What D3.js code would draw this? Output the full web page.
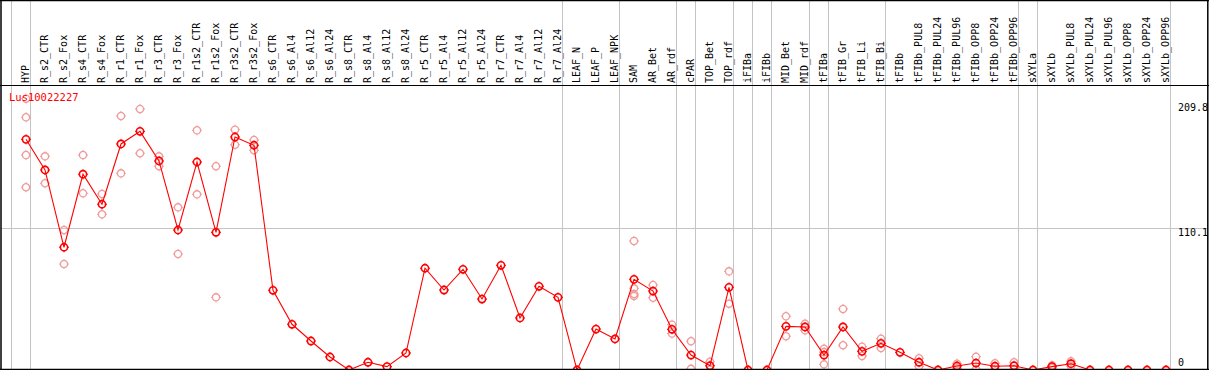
<!DOCTYPE html>
<html><head><meta charset="utf-8">
<script src="https://cdn.jsdelivr.net/npm/d3@7"></script>
<style>html,body{margin:0;padding:0;background:#fff;overflow:hidden}</style>
</head><body><svg id="c" width="1209" height="370"></svg>
<script>
const geneName = "Lus10022227";
const categories = ["HYP","R_s2_CTR","R_s2_Fox","R_s4_CTR","R_s4_Fox","R_r1_CTR","R_r1_Fox","R_r3_CTR","R_r3_Fox","R_r1s2_CTR","R_r1s2_Fox","R_r3s2_CTR","R_r3s2_Fox","R_s6_CTR","R_s6_Al4","R_s6_Al12","R_s6_Al24","R_s8_CTR","R_s8_Al4","R_s8_Al12","R_s8_Al24","R_r5_CTR","R_r5_Al4","R_r5_Al12","R_r5_Al24","R_r7_CTR","R_r7_Al4","R_r7_Al12","R_r7_Al24","LEAF_N","LEAF_P","LEAF_NPK","SAM","AR_Bet","AR_rdf","cPAR","TOP_Bet","TOP_rdf","iFIBa","iFIBb","MID_Bet","MID_rdf","tFIBa","tFIB_Gr","tFIB_Li","tFIB_Bi","tFIBb","tFIBb_PUL8","tFIBb_PUL24","tFIBb_PUL96","tFIBb_OPP8","tFIBb_OPP24","tFIBb_OPP96","sXYLa","sXYLb","sXYLb_PUL8","sXYLb_PUL24","sXYLb_PUL96","sXYLb_OPP8","sXYLb_OPP24","sXYLb_OPP96"];
const means = [179.1,155.3,95.3,152.0,128.7,175.5,185.3,162.3,108.7,161.5,106.9,180.9,174.5,61.9,35.5,22.5,10.1,0,6.0,2.6,13.2,79.0,62.1,78.2,55.1,81.3,40.4,65.0,56.4,0,31.8,24.1,70.4,61.3,31.6,11.6,3.3,64.2,0,0,33.9,33.4,11.6,33.4,14.5,20.7,13.7,6.0,0,3.1,5.4,2.9,3.3,0,2.6,4.9,0,0,0,0,0];
const replicates = [
 [210.7,196.2,166.9,141.9],[165.9,145.0],[108.7,82.3],[166.9,137.2],[136.7,120.9],[197.2,152.7],[202.7,168.3],[165.9,158.2],[126.3,90.1],[186.1,136.4],[158.2,56.4],[186.6,174.9],[178.6,170.6],
 [],[],[],[],[],[],[],[],[],[],[],[],[],[],[],[],[],[],[],
 [100.2,63.4,59.0,57.5],[66.0,56.1],[35.2,28.3],[22.3,0.9],[6.4,0.2],[76.6,51.5],[],[],[41.7,26.2],[35.9,30.8],[16.5,13.9,4.4],[47.4,19.2],[18.1,10.9],[24.3,17.1],[],
 [9.1,2.9],[],[4.9,1.3],[10.3,0.5],[5.2,0.6],[6.0,0.6],[],[3.6,1.6],[6.8,3.0],[],[],[],[],[]
];
const groupEnds = [null,"HYP","R_r7_Al24","LEAF_NPK","AR_rdf","cPAR","TOP_rdf","iFIBa","iFIBb","MID_rdf","tFIBa","tFIB_Bi","tFIBb_OPP96","sXYLa","sXYLb_OPP96"];
const yTicks = [209.8,110.1,0];
const gridTicks = [110.1];

const W = 1209, H = 370;
const svg = d3.select("#c");
const font = "'DejaVu Sans Mono', monospace";
const x = d3.scalePoint().domain(categories).range([26, 26 + 19 * (categories.length - 1)]);
const y = d3.scaleLinear().domain([0, 110.1]).range([370, 228.2]);
const step = x.step();

// grid lines
svg.append("g").selectAll("line").data(gridTicks).join("line")
  .attr("x1", 1).attr("x2", W - 2)
  .attr("y1", d => Math.round(y(d)) + 0.5).attr("y2", d => Math.round(y(d)) + 0.5)
  .attr("stroke", "#c4c4c4").attr("stroke-width", 1);

// group separators
const sepX = d => {
  const cx = d === null ? x(categories[0]) - step : x(d);
  return Math.floor(cx + 4.7) + 0.5;
};
svg.append("g").selectAll("line").data(groupEnds).join("line")
  .attr("x1", sepX).attr("x2", sepX).attr("y1", 0).attr("y2", H)
  .attr("stroke", "#c4c4c4").attr("stroke-width", 1);

// column labels
svg.append("g").selectAll("text").data(categories).join("text")
  .attr("transform", d => `translate(${x(d) + 2.5},83) rotate(-90)`)
  .attr("font-family", font).attr("font-size", 10).attr("fill", "#000")
  .text(d => d);

// plot clip
svg.append("clipPath").attr("id", "pc").append("rect")
  .attr("x", 1).attr("y", 86).attr("width", W - 3).attr("height", 283);
const plot = svg.append("g").attr("clip-path", "url(#pc)");

function marker(g, color, sw) {
  g.append("circle").attr("r", 3.6).attr("fill", "none").attr("stroke", color).attr("stroke-width", sw);
  const nubs = [[0,-3.6,0,-5],[0,3.6,0,5],[-3.6,0,-5,0],[3.6,0,5,0]];
  nubs.forEach(n => g.append("line").attr("x1", n[0]).attr("y1", n[1]).attr("x2", n[2]).attr("y2", n[3])
    .attr("stroke", color).attr("stroke-width", 1));
}

// replicates
const repData = [];
replicates.forEach((arr, i) => arr.forEach(v => repData.push({c: categories[i], v})));
plot.append("g").selectAll("g").data(repData).join("g")
  .attr("transform", d => `translate(${x(d.c)},${y(d.v)})`)
  .each(function() { marker(d3.select(this), "#f09c9c", 1.3); });

// mean line
const line = d3.line().x((d, i) => x(categories[i])).y(d => y(d));
plot.append("path").datum(means).attr("d", line)
  .attr("fill", "none").attr("stroke", "#ff0000").attr("stroke-width", 1.1);

// mean markers
plot.append("g").selectAll("g").data(means).join("g")
  .attr("transform", (d, i) => `translate(${x(categories[i])},${y(d)})`)
  .each(function() { marker(d3.select(this), "#ff0000", 1.6); });

// gene label
svg.append("text").attr("x", 9).attr("y", 101)
  .attr("font-family", font).attr("font-size", 10.5).attr("fill", "#ff0000").text(geneName);

// y tick labels on right
svg.append("g").selectAll("text").data(yTicks).join("text")
  .attr("x", 1178)
  .attr("y", (d, i) => Math.min(y(d) + (i === 0 ? 11 : 8), 366))
  .attr("font-family", font).attr("font-size", 10).attr("fill", "#000")
  .text(d => d);

// frame
svg.append("line").attr("x1", 0).attr("x2", W).attr("y1", 0.5).attr("y2", 0.5).attr("stroke", "#000").attr("stroke-width", 1.5);
svg.append("line").attr("x1", 0).attr("x2", W).attr("y1", 85.5).attr("y2", 85.5).attr("stroke", "#000").attr("stroke-width", 1);
svg.append("line").attr("x1", 0).attr("x2", W).attr("y1", 369.5).attr("y2", 369.5).attr("stroke", "#000").attr("stroke-width", 1.5);
svg.append("line").attr("x1", 1).attr("x2", 1).attr("y1", 0).attr("y2", H).attr("stroke", "#000").attr("stroke-width", 1.5);
svg.append("line").attr("x1", 1207.8).attr("x2", 1207.8).attr("y1", 0).attr("y2", H).attr("stroke", "#000").attr("stroke-width", 1.5);
</script></body></html>
